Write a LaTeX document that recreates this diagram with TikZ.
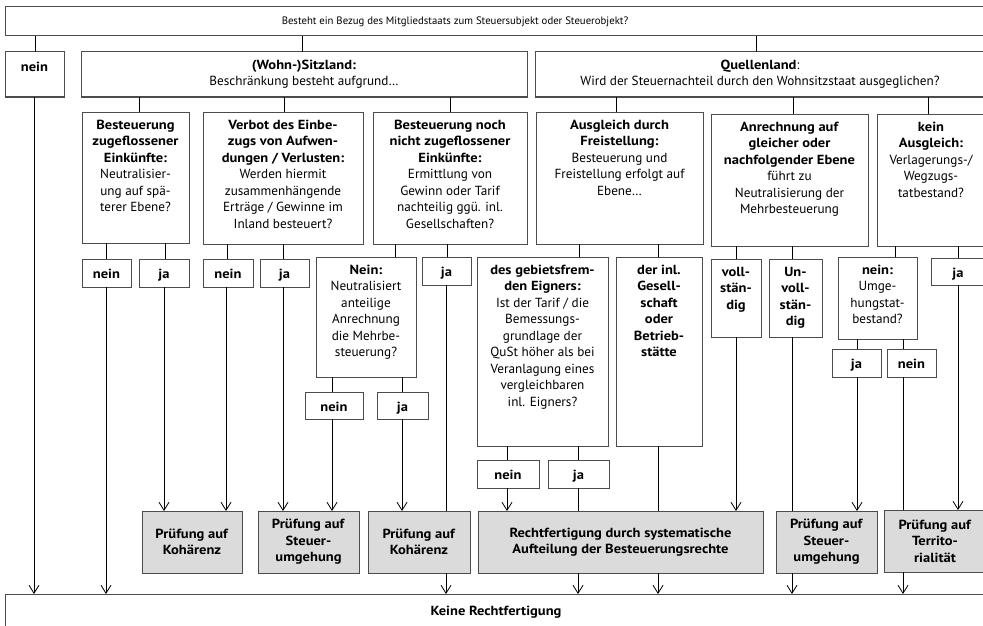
\documentclass[tikz,border=0pt]{standalone}
\usepackage{fontspec}
\setmainfont{PT Sans}[BoldFeatures={FakeStretch=1.1}]
\usetikzlibrary{arrows.meta}

\begin{document}
\begin{tikzpicture}[x=1pt, y=-1pt, line width=0.8pt,
    font=\fontsize{13.2}{16.5}\selectfont,
    >={Straight Barb[length=8pt, width=10pt]},
    box/.style={draw=black!70, line width=1pt, anchor=north west, inner sep=0pt, outer sep=0pt},
    grau/.style={box, fill=black!14},
    oben/.style={label={[anchor=north, align=center, inner sep=0pt, yshift=-7.5pt, execute at begin node=\strut]north:{#1}}},
    mitte/.style={label={[align=center, inner sep=0pt]center:{#1}}}]
  \useasboundingbox (0,0) rectangle (983,626);
  \clip (0,0) rectangle (983,626);

  % Ebene 1
  \node[box, minimum width=982, minimum height=29,
    label={[xshift=-41pt, font=\fontsize{10.75}{14}\selectfont]center:Besteht ein Bezug des Mitgliedstaats zum Steuersubjekt oder Steuerobjekt?}] (bezug) at (5,7) {};
  \node[box, minimum width=59, minimum height=45, oben={\textbf{nein}}] (keinbez) at (5,52) {};
  \node[box, minimum width=446, minimum height=45,
    oben={\textbf{(Wohn-)Sitzland:}\\Beschränkung besteht aufgrund\ldots}] (sitz) at (81,52) {};
  \node[box, minimum width=450, minimum height=45,
    oben={\textbf{Quellenland}:\\Wird der Steuernachteil durch den Wohnsitzstaat ausgeglichen?}] (quelle) at (535,52) {};

  % Ebene 2
  \node[box, minimum width=107, minimum height=131,
    oben={\textbf{Besteuerung}\\\textbf{zugeflossener}\\\textbf{Einkünfte:}\\Neutralisier-\\ung auf spä-\\terer Ebene?}] (zufl) at (82,112) {};
  \node[box, minimum width=160, minimum height=132,
    oben={\textbf{Verbot des Einbe-}\\\textbf{zugs von Aufwen-}\\\textbf{dungen / Verlusten:}\\Werden hiermit\\zusammenhängende\\Erträge / Gewinne im\\Inland besteuert?}] (aufw) at (203,112) {};
  \node[box, minimum width=154, minimum height=132,
    oben={\textbf{Besteuerung noch}\\\textbf{nicht zugeflossener}\\\textbf{Einkünfte:}\\Ermittlung von\\Gewinn oder Tarif\\nachteilig ggü. inl.\\Gesellschaften?}] (noch) at (373,112) {};
  \node[box, minimum width=167, minimum height=132,
    oben={\textbf{Ausgleich durch}\\\textbf{Freistellung:}\\Besteuerung und\\Freistellung erfolgt auf\\Ebene\ldots}] (freist) at (536,112) {};
  \node[box, minimum width=157, minimum height=132,
    oben={\textbf{Anrechnung auf}\\\textbf{gleicher oder}\\\textbf{nachfolgender Ebene}\\führt zu\\Neutralisierung der\\Mehrbesteuerung}] (anrech) at (711,114) {};
  \node[box, minimum width=108, minimum height=132,
    oben={\textbf{kein}\\\textbf{Ausgleich:}\\Verlagerungs-/\\Wegzugs-\\tatbestand?}] (keinausgl) at (877,114) {};

  % Ebene 3
  \node[box, minimum width=49, minimum height=28, oben={\textbf{nein}}] (zuflnein) at (82,259) {};
  \node[box, minimum width=50, minimum height=28, oben={\textbf{ja}}] (zuflja) at (139,259) {};
  \node[box, minimum width=50, minimum height=28, oben={\textbf{nein}}] (aufwnein) at (203,259) {};
  \node[box, minimum width=49, minimum height=28, oben={\textbf{ja}}] (aufwja) at (260,259) {};
  \node[box, minimum width=100, minimum height=120,
    oben={\textbf{Nein:}\\Neutralisiert\\anteilige\\Anrechnung\\die Mehrbe-\\steuerung?}] (neut) at (316,257) {};
  \node[box, minimum width=49, minimum height=28, oben={\textbf{ja}}] (nochja) at (422,257) {};
  \node[box, minimum width=131, minimum height=189,
    oben={\textbf{des gebietsfrem-}\\\textbf{den Eigners:}\\Ist der Tarif / die\\Bemessungs-\\grundlage der\\QuSt höher als bei\\Veranlagung eines\\vergleichbaren\\inl. Eigners?}] (geb) at (477,257) {};
  \node[box, minimum width=86, minimum height=189,
    oben={\textbf{der inl.}\\\textbf{Gesell-}\\\textbf{schaft}\\\textbf{oder}\\\textbf{Betrieb-}\\\textbf{stätte}}] (inl) at (616,257) {};
  \node[box, minimum width=50, minimum height=78,
    oben={\textbf{voll-}\\\textbf{stän-}\\\textbf{dig}}] (vollst) at (711,259) {};
  \node[box, minimum width=53, minimum height=78,
    oben={\textbf{Un-}\\\textbf{voll-}\\\textbf{stän-}\\\textbf{dig}}] (unvoll) at (769,259) {};
  \node[box, minimum width=79, minimum height=82,
    oben={\textbf{nein:}\\Umge-\\hungstat-\\bestand?}] (umg) at (838,257) {};
  \node[box, minimum width=54, minimum height=27, oben={\textbf{ja}}] (keinja) at (931,258) {};

  % Ebene 4
  \node[box, minimum width=58, minimum height=27, oben={\textbf{nein}}] (neutnein) at (305,392) {};
  \node[box, minimum width=51, minimum height=27, oben={\textbf{ja}}] (neutja) at (377,392) {};
  \node[box, minimum width=62, minimum height=28, oben={\textbf{nein}}] (gebnein) at (477,460) {};
  \node[box, minimum width=61, minimum height=28, oben={\textbf{ja}}] (gebja) at (548,460) {};
  \node[box, minimum width=49, minimum height=28, oben={\textbf{ja}}] (umgja) at (832,349) {};
  \node[box, minimum width=49, minimum height=28, oben={\textbf{nein}}] (umgnein) at (887,349) {};

  % Pruefungen
  \node[grau, minimum width=100, minimum height=62,
    mitte={\textbf{Prüfung auf}\\\textbf{Kohärenz}}] (koh1) at (142,511) {};
  \node[grau, minimum width=101, minimum height=62,
    mitte={\textbf{Prüfung auf}\\\textbf{Steuer-}\\\textbf{umgehung}}] (steu1) at (258,511) {};
  \node[grau, minimum width=102, minimum height=62,
    mitte={\textbf{Prüfung auf}\\\textbf{Kohärenz}}] (koh2) at (368,511) {};
  \node[grau, minimum width=285, minimum height=62,
    mitte={\textbf{Rechtfertigung durch systematische}\\\textbf{Aufteilung der Besteuerungsrechte}}] (recht) at (478,511) {};
  \node[grau, minimum width=101, minimum height=62,
    mitte={\textbf{Prüfung auf}\\\textbf{Steuer-}\\\textbf{umgehung}}] (steu2) at (776,511) {};
  \node[grau, minimum width=102, minimum height=62,
    mitte={\textbf{Prüfung auf}\\\textbf{Territo-}\\\textbf{rialität}}] (terr) at (884,510) {};

  \node[box, minimum width=982, minimum height=36,
    mitte={\textbf{Keine Rechtfertigung}}] (keine) at (5,594) {};

  % Verbindungen
  \foreach \a/\b/\x in {bezug/keinbez/35, bezug/sitz/302, bezug/quelle/756,
      sitz/zufl/139, sitz/aufw/284, sitz/noch/450,
      quelle/freist/616, quelle/anrech/793, quelle/keinausgl/928,
      zufl/zuflnein/106, zufl/zuflja/165, aufw/aufwnein/227, aufw/aufwja/283,
      noch/neut/395, noch/nochja/447, neut/neutnein/332, neut/neutja/402,
      freist/geb/579, freist/inl/658, geb/gebnein/507, geb/gebja/578,
      anrech/vollst/736, anrech/unvoll/792, keinausgl/umg/895, keinausgl/keinja/958,
      umg/umgja/857, umg/umgnein/903,
      nochja/koh2/446, gebja/recht/578, inl/recht/658, unvoll/steu2/792, umgnein/terr/903}
    \draw (\a.south -| \x,0) -- (\b.north -| \x,0);

  \foreach \a/\b/\x in {keinbez/keine/34, zuflnein/keine/106, zuflja/koh1/164,
      aufwnein/koh1/226, aufwja/steu1/283, neutnein/steu1/332, neutja/koh2/402,
      koh2/keine/446, gebnein/recht/507, recht/keine/578, recht/keine/658,
      vollst/recht/736, steu2/keine/792, umgja/steu2/857, terr/keine/903, keinja/terr/958}
    \draw[->] (\a.south -| \x,0) -- (\b.north -| \x,0);
\end{tikzpicture}
\end{document}
